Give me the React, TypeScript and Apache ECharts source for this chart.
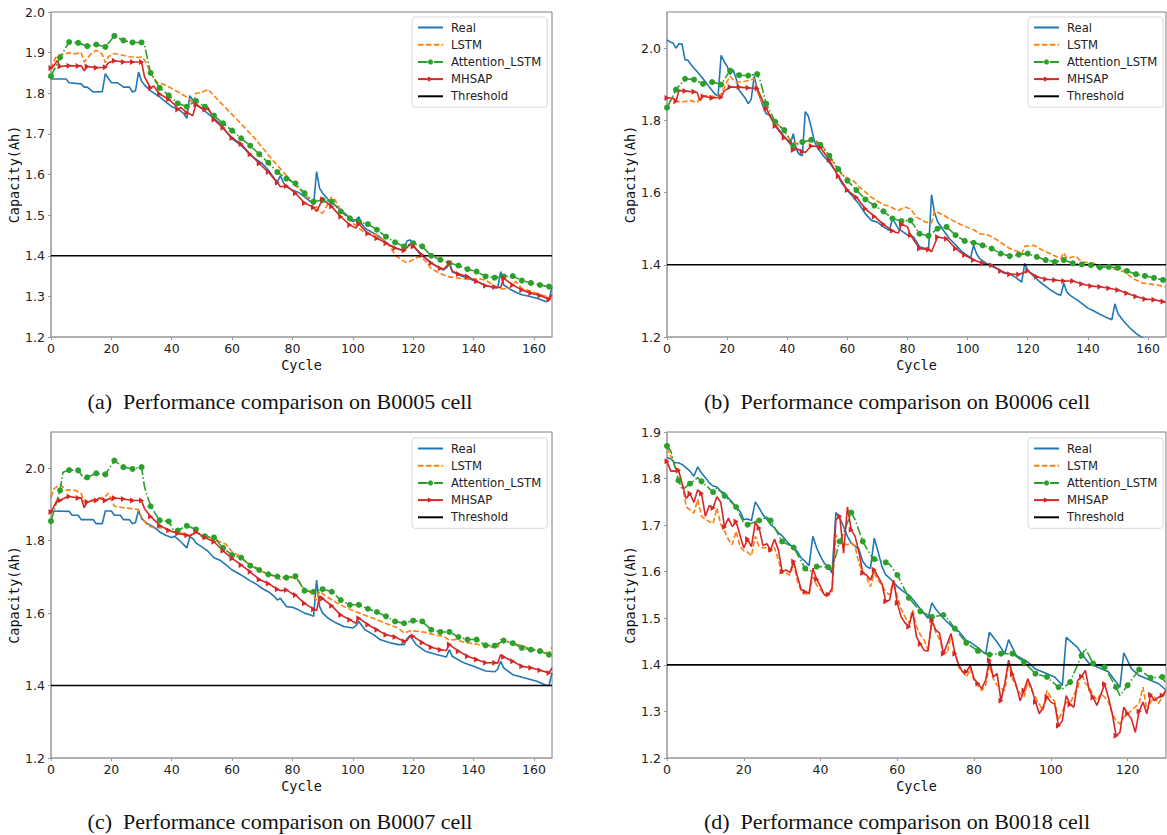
import React, { useEffect, useRef } from "react";
import * as echarts from "echarts";

type Pt = [number, number];

// ---------------- data ----------------
const SERIES_NAMES = ["Real", "LSTM", "Attention_LSTM", "MHSAP", "Threshold"];
const MARKED_SERIES = ["Attention_LSTM", "MHSAP"];
const THRESHOLD = 1.4;
const CAPTIONS = [
  "(a)\u00a0 Performance comparison on B0005 cell",
  "(b)\u00a0 Performance comparison on B0006 cell",
  "(c)\u00a0 Performance comparison on B0007 cell",
  "(d)\u00a0 Performance comparison on B0018 cell",
];
const X_MAX = [166, 166, 166, 130];
const X_INTERVAL = 20;
const Y_MIN = [1.2, 1.2, 1.2, 1.2];
const Y_MAX = [2.0, 2.1, 2.1, 1.9];
const Y_INTERVAL = [0.1, 0.2, 0.2, 0.1];
const X_NAME = "Cycle";
const Y_NAME = "Capacity(Ah)";

// B0005
const A_REAL: Pt[] = [[0,1.835],[5,1.835],[6,1.826],[10,1.823],[11,1.815],[12,1.815],[14,1.803],[17,1.804],[18,1.848],[20,1.826],[22,1.826],[24,1.815],[26,1.815],[27,1.803],[28,1.806],[29,1.852],[30,1.83],[31,1.82],[33,1.806],[36,1.791],[38,1.779],[40,1.767],[42,1.762],[44,1.75],[45,1.738],[46,1.794],[47,1.783],[48,1.771],[50,1.762],[52,1.75],[54,1.738],[56,1.725],[58,1.705],[60,1.688],[62,1.677],[64,1.664],[66,1.648],[68,1.637],[70,1.627],[72,1.611],[74,1.59],[75,1.582],[76,1.597],[77,1.58],[78,1.57],[80,1.562],[82,1.556],[84,1.545],[86,1.533],[87,1.525],[88,1.607],[89,1.566],[90,1.554],[92,1.537],[94,1.525],[96,1.513],[98,1.5],[100,1.484],[101,1.488],[102,1.496],[103,1.478],[104,1.468],[106,1.459],[108,1.451],[110,1.44],[112,1.427],[114,1.419],[116,1.414],[117,1.418],[118,1.437],[119,1.439],[120,1.427],[122,1.406],[124,1.394],[126,1.382],[128,1.373],[130,1.365],[131,1.37],[132,1.38],[133,1.36],[134,1.357],[136,1.35],[138,1.345],[140,1.339],[142,1.334],[144,1.326],[146,1.323],[148,1.32],[149,1.361],[150,1.328],[152,1.318],[154,1.31],[156,1.304],[158,1.301],[160,1.297],[162,1.293],[164,1.287],[165,1.29],[166,1.324]];
const A_LSTM: Pt[] = [[0,1.86],[1,1.88],[2,1.893],[4,1.895],[6,1.9],[8,1.897],[10,1.9],[11,1.877],[13,1.895],[15,1.906],[17,1.896],[18,1.875],[19,1.89],[21,1.898],[23,1.895],[26,1.89],[29,1.888],[30,1.89],[31,1.882],[33,1.85],[35,1.828],[38,1.82],[40,1.812],[44,1.795],[46,1.785],[47,1.775],[48,1.8],[50,1.802],[52,1.81],[56,1.778],[60,1.748],[64,1.717],[68,1.685],[72,1.648],[76,1.614],[78,1.597],[80,1.58],[82,1.566],[84,1.552],[86,1.537],[88,1.52],[89,1.507],[90,1.505],[92,1.53],[93,1.545],[94,1.538],[96,1.512],[98,1.496],[100,1.48],[102,1.468],[104,1.456],[106,1.454],[108,1.452],[110,1.44],[112,1.425],[114,1.403],[116,1.39],[118,1.383],[120,1.39],[122,1.398],[124,1.388],[126,1.368],[128,1.36],[130,1.353],[132,1.348],[134,1.346],[136,1.344],[138,1.342],[140,1.342],[142,1.343],[144,1.34],[146,1.33],[148,1.32],[150,1.318],[152,1.322],[154,1.337],[156,1.32],[158,1.315],[160,1.31],[162,1.305],[164,1.3],[166,1.295]];
const A_ATT: Pt[] = [[0,1.842],[3,1.888],[6,1.926],[9,1.924],[12,1.916],[15,1.92],[18,1.914],[21,1.941],[24,1.93],[27,1.925],[30,1.925],[31,1.918],[33,1.85],[36,1.813],[39,1.795],[42,1.775],[45,1.767],[48,1.781],[51,1.767],[54,1.745],[57,1.726],[60,1.708],[63,1.689],[66,1.671],[69,1.65],[72,1.629],[75,1.606],[78,1.59],[81,1.578],[84,1.554],[87,1.533],[90,1.537],[93,1.533],[96,1.509],[99,1.492],[102,1.484],[105,1.478],[108,1.464],[111,1.447],[114,1.433],[117,1.423],[120,1.431],[123,1.423],[126,1.4],[129,1.39],[132,1.382],[135,1.376],[138,1.367],[141,1.361],[144,1.349],[147,1.346],[150,1.349],[153,1.35],[156,1.339],[159,1.333],[162,1.328],[165,1.324],[166,1.32]];
const A_MHSAP: Pt[] = [[0,1.862],[1,1.868],[2,1.88],[3,1.866],[6,1.868],[9,1.867],[10,1.868],[11,1.855],[12,1.866],[15,1.863],[18,1.864],[19,1.875],[21,1.88],[24,1.877],[27,1.877],[30,1.877],[31,1.84],[33,1.813],[34,1.818],[36,1.798],[39,1.785],[41,1.772],[42,1.76],[43,1.765],[45,1.752],[47,1.745],[48,1.773],[50,1.763],[51,1.76],[52,1.765],[54,1.735],[57,1.715],[60,1.69],[63,1.675],[66,1.65],[69,1.627],[72,1.606],[75,1.58],[76,1.57],[78,1.572],[80,1.56],[81,1.554],[84,1.53],[87,1.519],[88,1.509],[90,1.539],[93,1.521],[96,1.496],[99,1.476],[101,1.468],[102,1.478],[105,1.455],[108,1.443],[111,1.431],[114,1.419],[117,1.413],[119,1.428],[120,1.423],[123,1.402],[126,1.382],[129,1.369],[130,1.366],[132,1.382],[133,1.362],[135,1.355],[138,1.349],[141,1.337],[144,1.326],[147,1.323],[149,1.322],[150,1.345],[153,1.328],[156,1.316],[159,1.308],[162,1.302],[165,1.293],[166,1.304]];

// B0006
const B_REAL: Pt[] = [[0,2.023],[1,2.017],[2,2.014],[3,2.0],[4,2.012],[5,2.011],[6,1.968],[7,1.966],[8,1.954],[10,1.935],[12,1.915],[14,1.893],[16,1.872],[17,1.868],[18,1.98],[19,1.963],[20,1.95],[21,1.927],[22,1.94],[23,1.916],[24,1.883],[26,1.862],[27,1.846],[28,1.858],[29,1.922],[30,1.888],[31,1.862],[32,1.837],[33,1.818],[34,1.815],[36,1.787],[38,1.766],[40,1.745],[41,1.734],[42,1.763],[43,1.72],[44,1.706],[45,1.702],[46,1.824],[47,1.812],[48,1.78],[49,1.743],[50,1.725],[52,1.702],[54,1.683],[56,1.66],[58,1.628],[60,1.606],[62,1.587],[64,1.567],[66,1.541],[68,1.523],[70,1.518],[72,1.505],[74,1.495],[75,1.528],[76,1.514],[77,1.5],[80,1.482],[82,1.477],[84,1.45],[86,1.445],[87,1.442],[88,1.594],[89,1.545],[90,1.52],[92,1.495],[94,1.472],[96,1.455],[98,1.437],[100,1.425],[101,1.42],[102,1.454],[103,1.43],[104,1.417],[106,1.405],[108,1.396],[110,1.388],[112,1.377],[114,1.374],[116,1.365],[118,1.352],[119,1.404],[120,1.385],[121,1.376],[124,1.353],[126,1.34],[128,1.328],[130,1.318],[131,1.316],[132,1.349],[133,1.325],[134,1.316],[136,1.305],[138,1.293],[140,1.28],[142,1.272],[144,1.263],[146,1.255],[148,1.248],[149,1.292],[150,1.265],[152,1.243],[154,1.225],[156,1.21],[158,1.199],[160,1.19],[163,1.175],[166,1.16]];
const B_LSTM: Pt[] = [[0,1.83],[1,1.853],[2,1.862],[3,1.853],[5,1.851],[8,1.855],[10,1.849],[11,1.864],[13,1.869],[16,1.866],[18,1.873],[20,1.908],[21,1.922],[22,1.913],[23,1.906],[26,1.908],[29,1.915],[30,1.88],[32,1.844],[34,1.817],[36,1.794],[38,1.78],[40,1.757],[42,1.739],[44,1.734],[46,1.739],[48,1.745],[50,1.741],[52,1.725],[54,1.702],[56,1.674],[58,1.651],[60,1.64],[62,1.633],[64,1.615],[66,1.601],[68,1.587],[70,1.576],[72,1.566],[74,1.562],[76,1.553],[77,1.55],[79,1.56],[81,1.555],[83,1.532],[86,1.518],[88,1.516],[89,1.549],[92,1.537],[95,1.523],[98,1.51],[102,1.497],[104,1.486],[107,1.482],[110,1.468],[114,1.445],[117,1.436],[118,1.43],[119,1.451],[122,1.454],[125,1.44],[128,1.429],[131,1.417],[132,1.433],[133,1.418],[136,1.424],[138,1.408],[142,1.404],[145,1.394],[148,1.39],[152,1.381],[155,1.362],[158,1.35],[163,1.344],[166,1.339]];
const B_ATT: Pt[] = [[0,1.835],[3,1.885],[6,1.915],[9,1.913],[12,1.901],[15,1.906],[18,1.899],[21,1.938],[24,1.925],[27,1.924],[30,1.928],[31,1.91],[33,1.846],[36,1.796],[39,1.773],[42,1.729],[45,1.74],[48,1.746],[51,1.732],[54,1.702],[57,1.665],[60,1.633],[63,1.607],[66,1.581],[69,1.564],[72,1.548],[75,1.528],[78,1.521],[81,1.523],[84,1.486],[87,1.48],[90,1.5],[93,1.505],[96,1.482],[99,1.466],[102,1.461],[105,1.454],[108,1.445],[111,1.431],[114,1.424],[117,1.428],[120,1.431],[123,1.422],[126,1.413],[129,1.408],[132,1.413],[135,1.404],[138,1.401],[141,1.399],[144,1.393],[147,1.394],[150,1.392],[153,1.383],[156,1.374],[159,1.369],[162,1.364],[165,1.358],[166,1.356]];
const B_MHSAP: Pt[] = [[0,1.862],[2,1.862],[3,1.853],[4,1.883],[6,1.881],[9,1.879],[10,1.877],[11,1.855],[12,1.867],[15,1.862],[18,1.864],[19,1.881],[21,1.892],[24,1.892],[27,1.89],[30,1.888],[33,1.833],[36,1.784],[39,1.752],[41,1.741],[42,1.718],[43,1.722],[45,1.714],[46,1.711],[48,1.729],[50,1.728],[51,1.725],[54,1.69],[57,1.645],[60,1.607],[63,1.587],[66,1.555],[69,1.534],[72,1.512],[75,1.494],[76,1.49],[77,1.488],[78,1.513],[80,1.505],[81,1.482],[84,1.445],[87,1.442],[88,1.436],[90,1.477],[93,1.472],[96,1.445],[99,1.427],[102,1.413],[105,1.404],[108,1.399],[111,1.383],[114,1.374],[117,1.373],[120,1.383],[123,1.367],[126,1.36],[129,1.358],[132,1.355],[135,1.355],[138,1.347],[141,1.341],[144,1.339],[147,1.335],[150,1.33],[153,1.321],[156,1.312],[159,1.305],[162,1.303],[165,1.298],[166,1.297]];

// B0007
const C_REAL: Pt[] = [[0,1.882],[6,1.881],[7,1.87],[9,1.87],[10,1.858],[14,1.858],[15,1.847],[17,1.847],[18,1.882],[20,1.882],[21,1.87],[23,1.87],[24,1.858],[26,1.858],[27,1.847],[28,1.85],[29,1.884],[30,1.861],[32,1.847],[34,1.838],[36,1.824],[38,1.815],[40,1.809],[41,1.812],[43,1.797],[45,1.78],[46,1.81],[47,1.806],[48,1.794],[50,1.783],[52,1.771],[54,1.753],[56,1.746],[58,1.733],[60,1.719],[62,1.71],[64,1.7],[66,1.689],[68,1.68],[70,1.668],[72,1.659],[74,1.646],[75,1.636],[76,1.641],[78,1.618],[80,1.616],[82,1.609],[84,1.6],[86,1.595],[87,1.591],[88,1.691],[89,1.618],[90,1.6],[92,1.585],[94,1.575],[97,1.563],[100,1.559],[101,1.565],[102,1.577],[104,1.554],[107,1.54],[109,1.527],[112,1.519],[115,1.513],[117,1.513],[118,1.53],[119,1.538],[121,1.513],[124,1.495],[128,1.485],[131,1.479],[132,1.499],[133,1.48],[137,1.462],[140,1.453],[144,1.44],[147,1.438],[148,1.445],[149,1.467],[150,1.449],[153,1.43],[157,1.421],[161,1.412],[164,1.401],[165,1.4],[166,1.435]];
const C_LSTM: Pt[] = [[0,1.92],[1,1.943],[3,1.955],[5,1.94],[8,1.939],[10,1.93],[11,1.907],[13,1.911],[16,1.916],[18,1.922],[19,1.931],[21,1.895],[24,1.891],[27,1.888],[29,1.886],[30,1.865],[32,1.842],[34,1.836],[36,1.836],[38,1.833],[40,1.826],[42,1.821],[44,1.82],[46,1.815],[48,1.824],[50,1.815],[52,1.81],[54,1.806],[56,1.797],[58,1.79],[60,1.769],[62,1.76],[64,1.746],[66,1.735],[68,1.726],[70,1.714],[72,1.708],[74,1.702],[76,1.693],[78,1.7],[80,1.698],[82,1.69],[84,1.664],[86,1.657],[88,1.636],[89,1.66],[91,1.647],[95,1.627],[98,1.614],[101,1.604],[105,1.591],[108,1.582],[111,1.571],[115,1.559],[117,1.545],[119,1.551],[120,1.551],[124,1.547],[127,1.54],[130,1.536],[132,1.525],[134,1.527],[137,1.519],[140,1.516],[145,1.508],[148,1.505],[149,1.527],[152,1.519],[156,1.51],[159,1.501],[163,1.495],[165,1.49],[166,1.506]];
const C_ATT: Pt[] = [[0,1.854],[3,1.939],[4,1.989],[6,1.995],[9,1.994],[11,1.971],[12,1.975],[15,1.986],[18,1.983],[21,2.021],[24,2.003],[27,1.998],[30,2.003],[31,1.948],[33,1.895],[36,1.856],[39,1.853],[41,1.824],[42,1.828],[45,1.841],[48,1.831],[50,1.81],[51,1.812],[54,1.809],[57,1.78],[60,1.76],[63,1.753],[66,1.731],[69,1.719],[72,1.707],[75,1.701],[78,1.698],[81,1.702],[84,1.662],[87,1.659],[90,1.666],[93,1.659],[96,1.636],[99,1.623],[102,1.623],[105,1.612],[108,1.603],[111,1.591],[114,1.577],[117,1.572],[120,1.579],[123,1.577],[126,1.554],[129,1.548],[132,1.548],[135,1.534],[138,1.527],[141,1.527],[144,1.511],[147,1.51],[150,1.524],[153,1.517],[156,1.504],[159,1.499],[162,1.495],[165,1.485],[166,1.49]];
const C_MHSAP: Pt[] = [[0,1.879],[2,1.911],[3,1.911],[5,1.92],[6,1.922],[9,1.918],[10,1.918],[11,1.891],[12,1.907],[14,1.911],[15,1.911],[16,1.918],[18,1.911],[19,1.915],[21,1.918],[24,1.915],[27,1.911],[30,1.911],[31,1.888],[33,1.867],[36,1.842],[39,1.829],[42,1.82],[45,1.815],[46,1.812],[48,1.824],[51,1.809],[54,1.797],[57,1.772],[60,1.751],[63,1.733],[66,1.714],[69,1.693],[72,1.682],[75,1.666],[76,1.662],[78,1.664],[80,1.653],[81,1.65],[84,1.627],[87,1.611],[88,1.607],[89,1.647],[90,1.64],[93,1.62],[96,1.595],[99,1.582],[101,1.572],[102,1.586],[105,1.568],[108,1.554],[111,1.54],[114,1.534],[117,1.522],[118,1.525],[119,1.538],[120,1.536],[123,1.519],[126,1.506],[129,1.499],[131,1.497],[132,1.513],[135,1.495],[138,1.481],[141,1.472],[144,1.463],[147,1.463],[148,1.462],[149,1.485],[150,1.479],[153,1.467],[156,1.453],[159,1.449],[162,1.442],[165,1.435],[166,1.449]];

// B0018
const D_REAL: Pt[] = [[0,1.845],[1,1.842],[2,1.834],[3,1.834],[4,1.83],[5,1.823],[6,1.816],[7,1.805],[8,1.825],[9,1.812],[10,1.802],[11,1.791],[12,1.784],[13,1.782],[14,1.773],[15,1.769],[16,1.758],[17,1.749],[18,1.739],[19,1.73],[20,1.712],[21,1.713],[22,1.71],[23,1.75],[24,1.737],[25,1.722],[26,1.713],[27,1.701],[28,1.694],[29,1.684],[30,1.677],[31,1.667],[32,1.658],[33,1.652],[34,1.643],[35,1.629],[36,1.622],[37,1.613],[38,1.676],[39,1.651],[40,1.633],[41,1.618],[42,1.611],[43,1.597],[44,1.727],[45,1.715],[46,1.697],[47,1.676],[48,1.661],[49,1.655],[50,1.648],[51,1.622],[52,1.611],[53,1.607],[54,1.672],[55,1.643],[56,1.611],[57,1.593],[58,1.586],[59,1.578],[60,1.568],[62,1.555],[63,1.55],[64,1.541],[66,1.52],[68,1.5],[69,1.533],[70,1.52],[72,1.5],[74,1.484],[76,1.472],[78,1.452],[79,1.449],[81,1.437],[83,1.423],[84,1.47],[86,1.449],[88,1.424],[89,1.454],[91,1.42],[94,1.406],[96,1.391],[99,1.381],[101,1.374],[103,1.356],[104,1.459],[107,1.437],[108,1.424],[110,1.403],[113,1.392],[115,1.385],[118,1.352],[119,1.426],[121,1.392],[123,1.377],[125,1.37],[127,1.363],[128,1.36],[130,1.346]];
const D_LSTM: Pt[] = [[0,1.866],[1,1.848],[2,1.827],[3,1.819],[4,1.787],[5,1.739],[6,1.733],[7,1.726],[8,1.755],[9,1.719],[10,1.712],[11,1.708],[12,1.703],[13,1.737],[14,1.701],[15,1.687],[16,1.669],[17,1.658],[18,1.687],[19,1.654],[20,1.645],[21,1.642],[22,1.634],[23,1.676],[24,1.654],[25,1.651],[26,1.652],[27,1.643],[28,1.652],[29,1.625],[30,1.597],[31,1.597],[32,1.593],[33,1.618],[34,1.579],[35,1.557],[36,1.553],[37,1.55],[38,1.589],[39,1.571],[40,1.561],[41,1.55],[42,1.55],[43,1.557],[44,1.679],[45,1.661],[46,1.66],[47,1.658],[48,1.663],[49,1.654],[50,1.618],[51,1.6],[52,1.589],[53,1.568],[54,1.597],[55,1.582],[56,1.571],[57,1.557],[58,1.55],[59,1.582],[60,1.546],[61,1.52],[62,1.503],[63,1.489],[64,1.518],[65,1.482],[66,1.465],[67,1.453],[68,1.432],[69,1.493],[70,1.47],[71,1.455],[72,1.43],[73,1.424],[74,1.464],[75,1.428],[76,1.395],[77,1.385],[78,1.374],[79,1.392],[80,1.365],[81,1.355],[82,1.345],[83,1.356],[84,1.399],[85,1.37],[86,1.356],[87,1.35],[88,1.345],[89,1.405],[90,1.37],[91,1.352],[92,1.338],[93,1.331],[94,1.363],[95,1.345],[96,1.331],[97,1.315],[98,1.302],[99,1.345],[100,1.33],[101,1.322],[102,1.281],[103,1.3],[104,1.32],[105,1.317],[106,1.335],[107,1.352],[108,1.381],[109,1.36],[110,1.352],[111,1.335],[112,1.324],[113,1.338],[114,1.331],[115,1.32],[116,1.295],[117,1.28],[118,1.273],[119,1.288],[120,1.295],[121,1.302],[122,1.31],[123,1.317],[124,1.352],[125,1.302],[126,1.32],[127,1.331],[128,1.317],[129,1.33],[130,1.341]];
const D_ATT: Pt[] = [[0,1.87],[1,1.859],[3,1.796],[4,1.776],[6,1.789],[8,1.802],[9,1.794],[12,1.771],[13,1.78],[15,1.763],[18,1.739],[20,1.705],[21,1.701],[24,1.71],[26,1.717],[27,1.71],[30,1.665],[33,1.652],[36,1.607],[37,1.6],[39,1.611],[42,1.61],[43,1.605],[45,1.665],[46,1.683],[48,1.727],[49,1.712],[51,1.665],[53,1.636],[54,1.627],[57,1.62],[58,1.616],[60,1.593],[63,1.544],[66,1.515],[69,1.503],[72,1.507],[73,1.5],[75,1.478],[78,1.447],[81,1.43],[84,1.422],[87,1.424],[90,1.424],[93,1.406],[96,1.381],[99,1.374],[102,1.352],[103,1.348],[105,1.363],[108,1.42],[109,1.435],[111,1.403],[114,1.395],[117,1.352],[118,1.334],[120,1.356],[123,1.39],[126,1.372],[129,1.374],[130,1.359]];
const D_MHSAP: Pt[] = [[0,1.837],[1,1.816],[2,1.816],[3,1.818],[4,1.787],[5,1.757],[6,1.768],[7,1.749],[8,1.776],[9,1.768],[10,1.719],[11,1.742],[12,1.737],[13,1.761],[14,1.749],[15,1.696],[16,1.715],[17,1.697],[18,1.708],[19,1.679],[20,1.651],[21,1.67],[22,1.654],[23,1.706],[24,1.694],[25,1.656],[26,1.66],[27,1.647],[28,1.67],[29,1.647],[30,1.6],[31,1.604],[32,1.598],[33,1.622],[34,1.589],[35,1.561],[36,1.557],[37,1.553],[38,1.607],[39,1.584],[40,1.568],[41,1.55],[42,1.551],[43,1.564],[44,1.712],[45,1.719],[46,1.64],[47,1.739],[48,1.69],[49,1.676],[50,1.643],[51,1.597],[52,1.593],[53,1.582],[54,1.604],[55,1.589],[56,1.574],[57,1.536],[58,1.539],[59,1.582],[60,1.533],[61,1.503],[62,1.49],[63,1.482],[64,1.514],[65,1.46],[66,1.445],[67,1.431],[68,1.43],[69,1.496],[70,1.475],[71,1.468],[72,1.424],[73,1.445],[74,1.467],[75,1.424],[76,1.4],[77,1.385],[78,1.385],[79,1.399],[80,1.37],[81,1.36],[82,1.349],[83,1.367],[84,1.41],[85,1.374],[86,1.381],[87,1.323],[88,1.36],[89,1.41],[90,1.38],[91,1.356],[92,1.323],[93,1.345],[94,1.37],[95,1.349],[96,1.32],[97,1.295],[98,1.31],[99,1.331],[100,1.32],[101,1.316],[102,1.269],[103,1.28],[104,1.334],[105,1.315],[106,1.309],[107,1.367],[108,1.375],[109,1.388],[110,1.345],[111,1.33],[112,1.313],[113,1.335],[114,1.359],[115,1.33],[116,1.295],[117,1.248],[118,1.255],[119,1.309],[120,1.295],[121,1.284],[122,1.255],[123,1.3],[124,1.32],[125,1.295],[126,1.336],[127,1.323],[128,1.33],[129,1.334],[130,1.345]];

const PANELS = [
  { real: A_REAL, lstm: A_LSTM, att: A_ATT, mhsap: A_MHSAP },
  { real: B_REAL, lstm: B_LSTM, att: B_ATT, mhsap: B_MHSAP },
  { real: C_REAL, lstm: C_LSTM, att: C_ATT, mhsap: C_MHSAP },
  { real: D_REAL, lstm: D_LSTM, att: D_ATT, mhsap: D_MHSAP },
];

// ---------------- layout / style ----------------
const COLORS: Record<string, string> = {
  Real: "#1f77b4",
  LSTM: "#ff7f0e",
  Attention_LSTM: "#2ca02c",
  MHSAP: "#d62728",
  Threshold: "#000000",
};
const GRIDS = [
  { left: 51, top: 12, width: 501, height: 325 },
  { left: 667, top: 12, width: 499, height: 325 },
  { left: 51, top: 432, width: 501, height: 326 },
  { left: 667, top: 432, width: 499, height: 326 },
];
const LEGEND_POS = [
  { left: 412, top: 17 },
  { left: 1028, top: 17 },
  { left: 412, top: 438 },
  { left: 1028, top: 438 },
];
const CAPTION_POS = [
  { x: 280, y: 401 },
  { x: 897, y: 401 },
  { x: 280, y: 821 },
  { x: 897, y: 821 },
];
const TRI = "path://M0,0L10,5L0,10Z";
const SANS = "DejaVu Sans";
const MONO = "DejaVu Sans Mono";

function marked(pts: Pt[]) {
  return pts.map(([x, y]) => (x % 3 === 0 ? [x, y] : { value: [x, y], symbol: "none" }));
}

function buildOption() {
  const grid: any[] = [];
  const xAxis: any[] = [];
  const yAxis: any[] = [];
  const series: any[] = [];
  const legend: any[] = [];
  const graphic: any[] = [];
  PANELS.forEach((p, i) => {
    grid.push({ ...GRIDS[i], show: true, borderColor: "#7f7f7f", borderWidth: 1, backgroundColor: "transparent" });
    xAxis.push({
      type: "value",
      gridIndex: i,
      min: 0,
      max: X_MAX[i],
      interval: X_INTERVAL,
      name: X_NAME,
      nameLocation: "middle",
      nameGap: 21,
      nameTextStyle: { fontFamily: MONO, fontSize: 13.5, color: "#111" },
      axisLine: { show: true, lineStyle: { color: "#aaaaaa", width: 1.5 } },
      axisTick: { show: true, length: 3, lineStyle: { color: "#999" } },
      axisLabel: { fontFamily: SANS, fontSize: 12.5, color: "#222", margin: 5, showMaxLabel: false },
      splitLine: { show: false },
    });
    yAxis.push({
      type: "value",
      gridIndex: i,
      min: Y_MIN[i],
      max: Y_MAX[i],
      interval: Y_INTERVAL[i],
      name: Y_NAME,
      nameLocation: "middle",
      nameRotate: 90,
      nameGap: 28,
      nameTextStyle: { fontFamily: MONO, fontSize: 13.5, color: "#111" },
      axisLine: { show: true, lineStyle: { color: "#aaaaaa", width: 1.5 } },
      axisTick: { show: true, length: 3, lineStyle: { color: "#999" } },
      axisLabel: {
        fontFamily: SANS,
        fontSize: 12.5,
        color: "#222",
        margin: 6,
        showMaxLabel: Y_MAX[i] === 2.0 || Y_MAX[i] === 1.9,
        formatter: (v: number) => v.toFixed(1),
      },
      splitLine: { show: false },
    });
    const common = { type: "line", xAxisIndex: i, yAxisIndex: i, animation: false, silent: true };
    series.push({
      ...common,
      name: "Real",
      data: p.real,
      symbol: "none",
      lineStyle: { color: COLORS.Real, width: 1.6 },
      itemStyle: { color: COLORS.Real },
    });
    series.push({
      ...common,
      name: "LSTM",
      data: p.lstm,
      symbol: "none",
      lineStyle: { color: COLORS.LSTM, width: 1.6, type: [5.5, 2.4] },
      itemStyle: { color: COLORS.LSTM },
    });
    series.push({
      ...common,
      name: "Attention_LSTM",
      data: marked(p.att),
      symbol: "circle",
      symbolSize: 6,
      showSymbol: true,
      lineStyle: { color: COLORS.Attention_LSTM, width: 1.6, type: [9.6, 2.4, 1.5, 2.4] },
      itemStyle: { color: COLORS.Attention_LSTM, borderWidth: 0 },
    });
    series.push({
      ...common,
      name: "MHSAP",
      data: marked(p.mhsap),
      symbol: TRI,
      symbolSize: [5, 6],
      showSymbol: true,
      lineStyle: { color: COLORS.MHSAP, width: 1.6 },
      itemStyle: { color: COLORS.MHSAP, borderWidth: 0 },
    });
    series.push({
      ...common,
      name: "Threshold",
      data: [
        [0, THRESHOLD],
        [X_MAX[i], THRESHOLD],
      ],
      symbol: "none",
      lineStyle: { color: COLORS.Threshold, width: 1.6 },
      itemStyle: { color: COLORS.Threshold },
    });
    legend.push({
      ...LEGEND_POS[i],
      orient: "vertical",
      data: SERIES_NAMES.map((n) =>
        MARKED_SERIES.includes(n) ? { name: n } : { name: n, itemStyle: { opacity: 0 } }
      ),
      itemWidth: 25,
      itemHeight: 6.5,
      itemGap: 5.2,
      padding: [4.5, 6, 5, 5],
      borderColor: "#d9d9d9",
      borderWidth: 1,
      borderRadius: 3,
      backgroundColor: "rgba(255,255,255,0.85)",
      selectedMode: false,
      textStyle: { fontFamily: SANS, fontSize: 11.6, color: "#222", padding: [0, 0, 0, 3] },
    });
    graphic.push({
      type: "text",
      x: CAPTION_POS[i].x,
      y: CAPTION_POS[i].y,
      style: {
        text: CAPTIONS[i],
        fontFamily: "Liberation Serif",
        fontSize: 22,
        fill: "#111",
        align: "center",
        verticalAlign: "middle",
      },
    });
  });
  return { animation: false, backgroundColor: "#ffffff", grid, xAxis, yAxis, series, legend, graphic };
}

export default function App() {
  const ref = useRef<HTMLDivElement>(null);
  useEffect(() => {
    if (!ref.current) return;
    const chart = echarts.init(ref.current, undefined, { renderer: "svg" });
    chart.setOption(buildOption() as any);
    return () => chart.dispose();
  }, []);
  return (
    <div
      ref={ref}
      style={{ position: "fixed", left: 0, top: 0, width: 1167, height: 835, background: "#fff" }}
    />
  );
}
